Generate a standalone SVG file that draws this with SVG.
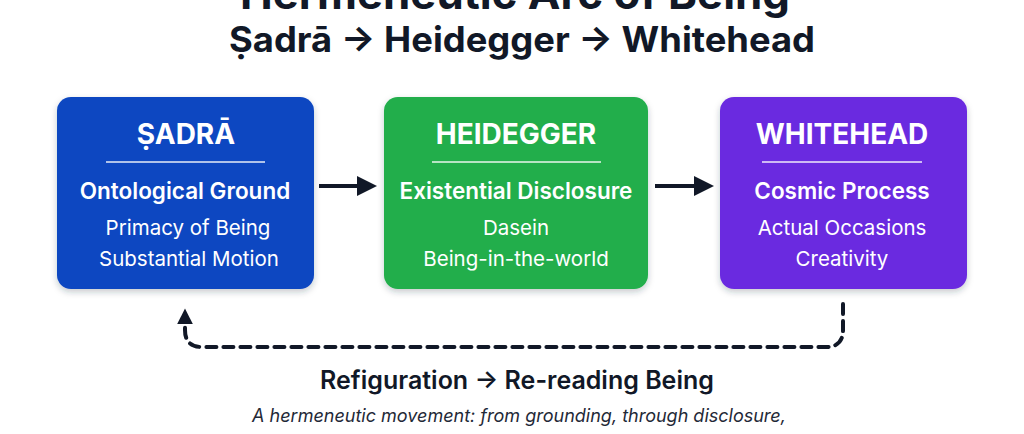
<svg xmlns="http://www.w3.org/2000/svg" width="1024" height="434" viewBox="0 0 1024 434">
  <defs>
    <filter id="shadow" x="-10%" y="-10%" width="120%" height="130%">
      <feDropShadow dx="0" dy="3" stdDeviation="3" flood-color="#1e293b" flood-opacity="0.25"/>
    </filter>
    <marker id="arrow" viewBox="0 0 10 10" refX="6" refY="5" markerWidth="5" markerHeight="5" orient="auto" markerUnits="strokeWidth">
      <path d="M0,0 L10,5 L0,10 Z" fill="#111827"/>
    </marker>
    <marker id="arrowUp" viewBox="0 0 10 10" refX="4" refY="5" markerWidth="4" markerHeight="4" orient="auto" markerUnits="strokeWidth">
      <path d="M0,0 L10,5 L0,10 Z" fill="#111827"/>
    </marker>
    <style>
      .title { font-family: Inter, "Noto Sans", "DejaVu Sans", sans-serif; font-weight: 700; fill: #111827; text-anchor: middle; }
      .head { font-family: Inter, "Noto Sans", "DejaVu Sans", sans-serif; font-weight: 700; font-size: 28px; fill: #ffffff; text-anchor: middle; }
      .sub { font-family: Inter, "Noto Sans", "DejaVu Sans", sans-serif; font-weight: 600; font-size: 22.5px; fill: #ffffff; text-anchor: middle; }
      .item { font-family: Inter, "Noto Sans", "DejaVu Sans", sans-serif; font-weight: 400; font-size: 20.5px; fill: #ffffff; text-anchor: middle; }
      .divider { stroke: #ffffff; stroke-width: 1.6; opacity: 0.9; }
      .conn { stroke: #111827; stroke-width: 4; fill: none; }
      .dashed { stroke: #111827; stroke-width: 4; fill: none; stroke-dasharray: 10 7; stroke-linecap: round; }
      .label { font-family: Inter, "Noto Sans", "DejaVu Sans", sans-serif; font-weight: 600; font-size: 25px; fill: #111827; text-anchor: middle; }
      .note { font-family: Inter, "Noto Sans", "DejaVu Sans", sans-serif; font-style: italic; font-size: 18px; fill: #1f2937; text-anchor: middle; }
    </style>
  </defs>

  <rect width="1024" height="434" fill="#ffffff"/>

  <g id="title">
    <text class="title" x="515" y="9" font-size="43" textLength="550" lengthAdjust="spacingAndGlyphs">Hermeneutic Arc of Being</text>
    <text class="title" x="522" y="52" font-size="35" textLength="586" lengthAdjust="spacingAndGlyphs">Ṣadrā → Heidegger → Whitehead</text>
  </g>

  <g id="node-sadra">
    <rect x="57" y="97" width="257" height="192" rx="14" fill="#0b47c1" filter="url(#shadow)"/>
    <text class="head" x="186" y="144">ṢADRĀ</text>
    <line class="divider" x1="106" y1="162" x2="265" y2="162"/>
    <text class="sub" x="185" y="199">Ontological Ground</text>
    <text class="item" x="188" y="235">Primacy of Being</text>
    <text class="item" x="189" y="266">Substantial Motion</text>
  </g>

  <g id="node-heidegger">
    <rect x="384" y="97" width="264" height="192" rx="14" fill="#20ae4b" filter="url(#shadow)"/>
    <text class="head" x="516" y="144">HEIDEGGER</text>
    <line class="divider" x1="432" y1="162" x2="601" y2="162"/>
    <text class="sub" x="516" y="199">Existential Disclosure</text>
    <text class="item" x="516" y="235">Dasein</text>
    <text class="item" x="516" y="266">Being-in-the-world</text>
  </g>

  <g id="node-whitehead">
    <rect x="720" y="97" width="247" height="192" rx="14" fill="#6b2be0" filter="url(#shadow)"/>
    <text class="head" x="842" y="144">WHITEHEAD</text>
    <line class="divider" x1="762" y1="162" x2="922" y2="162"/>
    <text class="sub" x="842" y="199">Cosmic Process</text>
    <text class="item" x="842" y="235">Actual Occasions</text>
    <text class="item" x="842" y="266">Creativity</text>
  </g>

  <g id="connectors">
    <line class="conn" x1="319" y1="186" x2="369" y2="186" marker-end="url(#arrow)"/>
    <line class="conn" x1="655" y1="186" x2="706" y2="186" marker-end="url(#arrow)"/>
    <path class="dashed" d="M843 304 L843 330 Q843 347 826 347 L202 347 Q185 347 185 330 L185 318" marker-end="url(#arrowUp)"/>
  </g>

  <g id="caption">
    <text class="label" x="517" y="389">Refiguration → Re-reading Being</text>
    <text class="note" x="519" y="422">A hermeneutic movement: from grounding, through disclosure,</text>
  </g>
</svg>
